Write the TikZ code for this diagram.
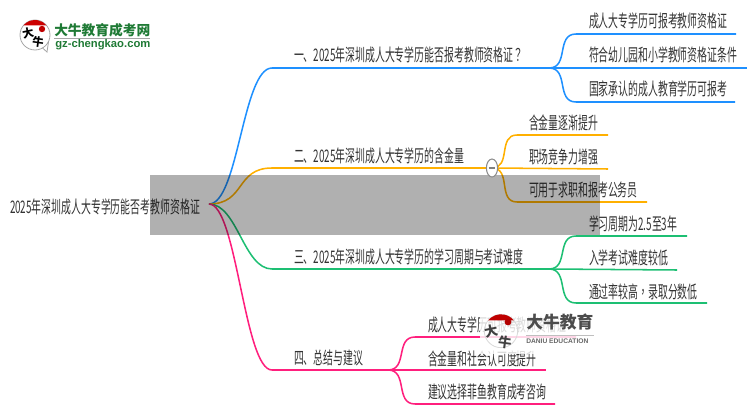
\documentclass[tikz,border=0pt]{standalone}
\usepackage{fontspec}
\usetikzlibrary{positioning,shapes.geometric}
\newfontfamily\cjkthin[FakeStretch=0.57]{Noto Sans CJK SC}
\newfontfamily\cjkpunct[FakeStretch=0.57]{Noto Sans CJK TC}
\newfontfamily\cjklogo{Noto Sans CJK SC}
\newfontfamily\latinlogo{Liberation Sans}
\definecolor{ablue}{HTML}{1E90FF}
\definecolor{byellow}{HTML}{FFB000}
\definecolor{cgreen}{HTML}{1DBF73}
\definecolor{dpink}{HTML}{FF1F7D}
\definecolor{logogreen}{HTML}{1F7A35}
\definecolor{caseink}{HTML}{333333}

\begin{document}
\begin{tikzpicture}[x=0.75pt,y=-0.75pt,
    textnode/.style={anchor=base west, inner sep=0pt, outer sep=0pt, text=caseink, font=\cjkthin\fontsize{13pt}{15pt}\selectfont},
    aline/.style={draw=ablue, line width=1.15pt},
    bline/.style={draw=byellow, line width=1.15pt},
    cline/.style={draw=cgreen, line width=1.15pt},
    dline/.style={draw=dpink, line width=1.15pt},
    twig/.style={out=0, in=180, looseness=1.2},
    foldnode/.style={ellipse, draw=black!45, fill=white, line width=0.8pt, minimum width=8.4pt, minimum height=13.5pt, inner sep=0pt},
    ringnode/.style={circle, outer sep=0pt, inner sep=0pt},
    ]
    \useasboundingbox (0,0) rectangle (750,410);

    %Nodes
    \node[textnode]      (root)  at (10,213)   {2025年深圳成人大专学历能否考教师资格证};
    \node[textnode]      (atop)  at (294,62)   {一、2025年深圳成人大专学历能否报考教师资格证{\cjkpunct ？}};
    \node[textnode]      (btop)  at (294,162)  {二、2025年深圳成人大专学历的含金量};
    \node[textnode]      (ctop)  at (294,263)  {三、2025年深圳成人大专学历的学习周期与考试难度};
    \node[textnode]      (dtop)  at (294,364)  {四、总结与建议};

    \node[textnode]      (aone)  at (589,28)   {成人大专学历可报考教师资格证};
    \node[textnode]      (atwo)  at (589,62)   {符合幼儿园和小学教师资格证条件};
    \node[textnode]      (athr)  at (589,96)   {国家承认的成人教育学历可报考};
    \node[textnode]      (bone)  at (529,129)  {含金量逐渐提升};
    \node[textnode]      (btwo)  at (529,163)  {职场竞争力增强};
    \node[textnode]      (bthr)  at (529,196)  {可用于求职和报考公务员};
    \node[textnode]      (cone)  at (589,230)  {学习周期为2.5至3年};
    \node[textnode]      (ctwo)  at (589,264)  {入学考试难度较低};
    \node[textnode]      (cthr)  at (589,298)  {通过率较高{\cjkpunct ，}录取分数低};
    \node[textnode]      (done)  at (428,331)  {成人大专学历可报考教师资格证};
    \node[textnode]      (dtwo)  at (428,365)  {含金量和社会认可度提升};
    \node[textnode]      (dthr)  at (428,398)  {建议选择菲鱼教育成考咨询};

    %Points
    \coordinate (rootout) at (209,204);
    \coordinate (aleft) at (272,68);
    \coordinate (ahub)  at (549,68);
    \coordinate (bleft) at (272,168);
    \coordinate (bhub)  at (492,168);
    \coordinate (cleft) at (272,269);
    \coordinate (chub)  at (549,269);
    \coordinate (dleft) at (272,370);
    \coordinate (dhub)  at (388,370);

    %Lines
    \draw[aline] (rootout) to [out=0,in=180,looseness=0.5] (aleft) -- (ahub);
    \draw[bline] (rootout) to [out=0,in=180,looseness=1.3] (bleft) -- (bhub);
    \draw[cline] (rootout) to [out=0,in=180,looseness=0.8] (cleft) -- (chub);
    \draw[dline] (rootout) to [out=0,in=180,looseness=0.4] (dleft) -- (dhub);

    \draw[aline] (ahub) to [twig] (576,34) -- (736,34);
    \draw[aline] (ahub) -- (747,68);
    \draw[aline] (ahub) to [twig] (576,102) -- (735,102);
    \draw[bline] (bhub) to [twig] (517,135) -- (608,135);
    \draw[bline] (bhub) -- (608,169);
    \draw[bline] (bhub) to [twig] (517,202) -- (647,202);
    \draw[cline] (chub) to [twig] (576,236) -- (687,236);
    \draw[cline] (chub) -- (677,270);
    \draw[cline] (chub) to [twig] (576,303) -- (707,303);
    \draw[dline] (dhub) to [twig] (415,337) -- (576,337);
    \draw[dline] (dhub) -- (546,370);
    \draw[dline] (dhub) to [twig] (415,404) -- (555,404);

    %Grey band
    \fill[black, opacity=0.31] (150,175) rectangle (600,235);

    %Fold mark
    \node[foldnode] (fold) at (bhub) {};
    \draw[black!50, line width=0.9pt] ([xshift=-2.6pt]fold.center) -- ([xshift=2.6pt]fold.center);

    %Logo, top left
    \node[ringnode, minimum size=22.5pt, draw=black!35, line width=0.6pt, fill=white] (logoring) at (35,35) {};
    \fill[red!80!black] (logoring.140) arc[start angle=140,end angle=40,radius=11.25pt] -- cycle;
    \draw[black!35, line width=0.6pt] (logoring.-60) -- (47,52) -- (logoring.-25);
    \fill[red!75!black] (42,29) circle (3.2);
    \node[font=\cjklogo\bfseries\fontsize{8.5pt}{9pt}\selectfont, rotate=12, inner sep=0pt] (logoda) at (28,33) {大};
    \node[font=\cjklogo\bfseries\fontsize{8.5pt}{9pt}\selectfont, rotate=-8, inner sep=0pt] (logoniu) at (38,42) {牛};
    \node[anchor=west, inner sep=0pt, text=logogreen, font=\cjklogo\bfseries\fontsize{10.3pt}{12pt}\selectfont] (logoname) at (54,30) {大牛教育成考网};
    \draw[black!35, line width=1pt] (54,38.5) -- (150,38.5);
    \node[anchor=west, inner sep=0pt, text=logogreen, font=\latinlogo\bfseries\fontsize{8.45pt}{10pt}\selectfont] (logourl) at (55,45) {gz-chengkao.com};

    %Logo, watermark
    \fill[white, opacity=0.82] (480,305) rectangle (597,354);
    \node[ringnode, minimum size=25pt, draw=black!15, line width=0.6pt] (markring) at (501,331) {};
    \fill[red!75!black] (markring.140) arc[start angle=140,end angle=40,radius=12.5pt] -- cycle;
    \fill[red!70!black] (508,322) circle (3.4);
    \node[font=\cjklogo\bfseries\fontsize{10pt}{11pt}\selectfont, rotate=12, text=black!75, inner sep=0pt] (markda) at (491,331) {大};
    \node[font=\cjklogo\bfseries\fontsize{10pt}{11pt}\selectfont, rotate=-8, text=black!75, inner sep=0pt] (markniu) at (505,342) {牛};
    \node[anchor=west, inner sep=0pt, text=black!70, font=\cjklogo\bfseries\fontsize{12.6pt}{14pt}\selectfont] (markname) at (526,322) {大牛教育};
    \draw[black!25, line width=0.7pt] (526,335) -- (594,335);
    \node[anchor=west, inner sep=0pt, text=black!60, font=\latinlogo\bfseries\fontsize{5pt}{6pt}\selectfont] (markedu) at (526,341) {DANIU EDUCATION};

    \end{tikzpicture}
\end{document}
